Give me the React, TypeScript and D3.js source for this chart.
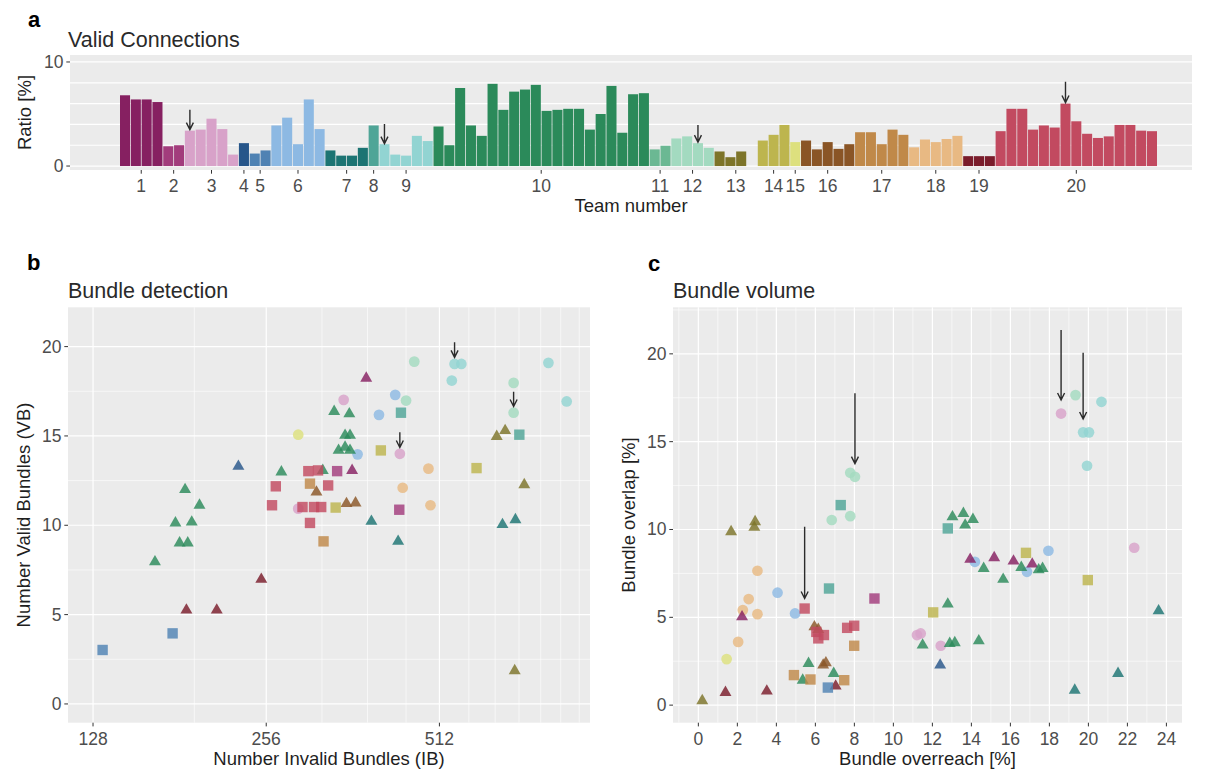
import React, { useEffect, useRef } from "react";
import * as d3 from "d3";

// ---- data ----
const teams = ["1","2","3","4","5","6","7","8","9","10","11","12","13","14","15","16","17","18","19","20"];
const teamColors = [
  "#862061", "#A23C7C", "#D8A2C9", "#27568A", "#4F82B3", "#8DB9E3", "#1C7473",
  "#4FA597", "#92D4D2", "#2B8A5A", "#6BB893", "#A3DAC0", "#7D7429", "#BDB54E",
  "#DDE07E", "#8A5526", "#C08949", "#E8B983", "#7A1C2B", "#C24A60",
];
// valid connection ratio [%] per submission, grouped by team
const teamRatios = [
  [6.8, 6.4, 6.4, 6.15],
  [1.9, 2.0],
  [3.4, 3.5, 4.55, 3.55, 1.1],
  [2.2],
  [1.2, 1.5],
  [3.9, 4.65, 2.1, 6.4, 3.55],
  [1.5, 1.0, 1.0, 1.75],
  [3.9],
  [2.1, 1.1, 1.0, 2.9, 2.4],
  [3.8, 2.0, 7.5, 3.9, 2.9, 7.9, 5.4, 7.15, 7.35, 7.8, 5.3, 5.4, 5.5, 5.5, 3.5, 5.0, 7.7, 3.2, 6.9, 7.0],
  [1.6, 1.95],
  [2.65, 2.85, 2.2, 1.75],
  [1.4, 0.85, 1.4, 0],
  [2.45, 3.0, 3.95],
  [2.3],
  [2.45, 1.6, 2.3, 1.65, 2.1],
  [3.25, 3.25, 2.1, 3.5, 3.0],
  [1.8, 2.55, 2.3, 2.6, 2.9],
  [0.95, 0.95, 0.95],
  [3.35, 5.5, 5.5, 3.5, 3.9, 3.7, 6.0, 4.3, 3.1, 2.7, 2.85, 3.95, 3.95, 3.4, 3.35],
];
// arrows: [team, submission index, from value, to value]
const arrowsA = [
  [3, 0, 5.4, 3.5],
  [9, 0, 4.05, 2.15],
  [12, 2, 3.95, 2.3],
  [20, 6, 8.1, 6.1],
];

// [IB, VB, team, shape]
const bundleDetection = [
  [463, 19.16, 12, "c"], [544, 19.03, 9, "c"], [559, 19.03, 9, "c"], [538, 18.1, 9, "c"],
  [792, 19.09, 9, "c"], [852, 16.93, 9, "c"], [689, 17.97, 12, "c"], [689, 16.3, 12, "c"],
  [349, 17.02, 3, "c"], [429, 17.3, 6, "c"], [448, 16.98, 12, "c"], [402, 16.18, 6, "c"],
  [291, 15.07, 15, "c"], [369, 13.97, 6, "c"], [437, 14.0, 3, "c"], [490, 13.17, 18, "c"],
  [442, 12.1, 18, "c"], [494, 11.12, 18, "c"], [291, 10.93, 3, "c"],
  [382, 18.23, 1, "t"], [336, 16.37, 10, "t"], [357, 16.24, 10, "t"], [351, 15.03, 10, "t"],
  [358, 15.03, 10, "t"], [342, 14.19, 10, "t"], [358, 14.19, 10, "t"], [351, 14.37, 10, "t"],
  [229, 13.3, 4, "t"], [272, 12.98, 10, "t"], [321, 13.07, 10, "t"], [361, 13.07, 1, "t"],
  [185, 12.0, 10, "t"], [196, 11.12, 10, "t"], [178, 10.13, 10, "t"], [190, 10.18, 10, "t"],
  [181, 9.01, 10, "t"], [187, 9.01, 10, "t"], [164, 7.95, 10, "t"], [186, 5.25, 19, "t"],
  [210, 5.25, 19, "t"], [251, 6.97, 19, "t"], [644, 14.97, 13, "t"], [666, 15.3, 13, "t"],
  [719, 12.27, 13, "t"], [692, 1.86, 13, "t"], [659, 10.04, 7, "t"], [694, 10.31, 7, "t"],
  [390, 10.22, 7, "t"], [434, 9.1, 7, "t"], [353, 11.21, 16, "t"], [366, 11.25, 16, "t"],
  [313, 11.86, 16, "t"],
  [439, 16.3, 8, "s"], [405, 14.19, 14, "s"], [705, 15.07, 8, "s"], [594, 13.2, 14, "s"],
  [303, 13.03, 20, "s"], [315, 13.07, 20, "s"], [340, 13.03, 2, "s"], [266, 12.18, 20, "s"],
  [305, 12.33, 17, "s"], [328, 12.23, 20, "s"], [262, 11.12, 20, "s"], [296, 11.02, 20, "s"],
  [310, 11.02, 20, "s"], [319, 11.02, 20, "s"], [305, 10.13, 20, "s"], [322, 9.1, 17, "s"],
  [338, 10.99, 14, "s"], [436, 10.87, 2, "s"], [176, 3.95, 5, "s"], [133, 3.02, 5, "s"],
];
const arrowsB = [
  [544, 20.24, 19.4],
  [437, 15.21, 14.35],
  [689, 17.48, 16.65],
];

// [overreach, overlap, team, shape]
const bundleVolume = [
  [18.6, 16.6, 3, "c"], [19.34, 17.65, 12, "c"], [20.67, 17.27, 9, "c"], [19.73, 15.53, 9, "c"],
  [20.03, 15.53, 9, "c"], [19.93, 13.63, 9, "c"], [7.79, 13.23, 12, "c"], [8.03, 13.0, 12, "c"],
  [6.84, 10.54, 12, "c"], [7.79, 10.76, 12, "c"], [3.03, 7.65, 18, "c"], [4.06, 6.4, 6, "c"],
  [2.58, 6.04, 18, "c"], [4.96, 5.22, 6, "c"], [2.28, 5.41, 18, "c"], [3.03, 5.18, 18, "c"],
  [2.04, 3.6, 18, "c"], [1.45, 2.62, 15, "c"], [14.18, 8.16, 6, "c"], [17.95, 8.79, 6, "c"],
  [16.85, 7.59, 6, "c"], [22.35, 8.96, 3, "c"], [11.21, 3.99, 3, "c"], [11.4, 4.08, 3, "c"],
  [12.43, 3.38, 3, "c"],
  [1.68, 9.87, 13, "t"], [2.87, 10.12, 13, "t"], [2.91, 10.44, 13, "t"], [2.24, 5.03, 1, "t"],
  [0.2, 0.25, 13, "t"], [1.39, 0.72, 19, "t"], [3.51, 0.8, 19, "t"], [5.95, 4.46, 16, "t"],
  [6.15, 4.31, 16, "t"], [5.65, 2.37, 10, "t"], [5.35, 1.42, 10, "t"], [6.94, 1.8, 10, "t"],
  [6.54, 2.41, 16, "t"], [6.4, 2.28, 16, "t"], [7.04, 1.08, 19, "t"], [13.03, 10.72, 10, "t"],
  [13.59, 10.91, 10, "t"], [13.68, 10.25, 10, "t"], [14.08, 10.57, 10, "t"], [13.94, 8.3, 1, "t"],
  [15.17, 8.39, 1, "t"], [16.16, 8.2, 1, "t"], [17.12, 8.03, 1, "t"], [14.63, 7.78, 10, "t"],
  [15.63, 7.16, 10, "t"], [16.56, 7.84, 10, "t"], [17.65, 7.78, 10, "t"], [17.45, 7.7, 10, "t"],
  [23.6, 5.37, 7, "t"], [12.79, 5.75, 10, "t"], [11.5, 3.42, 10, "t"], [12.89, 3.51, 10, "t"],
  [13.15, 3.55, 10, "t"], [14.38, 3.66, 10, "t"], [12.4, 2.28, 4, "t"], [19.3, 0.85, 7, "t"],
  [21.52, 1.8, 7, "t"],
  [7.3, 11.39, 8, "s"], [6.7, 6.64, 8, "s"], [5.45, 5.5, 20, "s"], [9.03, 6.07, 2, "s"],
  [6.05, 4.17, 20, "s"], [6.44, 3.99, 20, "s"], [6.15, 3.8, 20, "s"], [7.63, 4.4, 20, "s"],
  [7.99, 4.52, 20, "s"], [7.99, 3.38, 17, "s"], [4.9, 1.71, 17, "s"], [5.75, 1.46, 17, "s"],
  [7.48, 1.42, 17, "s"], [6.64, 1.0, 5, "s"], [12.79, 10.06, 8, "s"], [16.8, 8.67, 14, "s"],
  [19.97, 7.12, 14, "s"], [12.04, 5.28, 14, "s"],
];
const arrowsC = [
  [18.6, 21.36, 17.37],
  [19.73, 20.06, 16.29],
  [8.03, 17.75, 13.75],
  [5.45, 10.15, 6.07],
];

const FONT = "'Liberation Sans', Arial, sans-serif";
const BG = "#EBEBEB";
const TICK_COL = "#4d4d4d";
const TEXT_COL = "#1f1f1f";

function App() {
  const ref = useRef(null);

  const text = (g, x, y, str, size, opts: any = {}) => {
    const t = g
      .append("text")
      .attr("x", x)
      .attr("y", y)
      .attr("font-family", FONT)
      .attr("font-size", size)
      .attr("fill", opts.fill || TEXT_COL)
      .attr("text-anchor", opts.anchor || "start")
      .text(str);
    if (opts.weight) t.attr("font-weight", opts.weight);
    if (opts.rotate) t.attr("transform", `rotate(-90,${x},${y})`);
    return t;
  };

  const arrow = (g, x, y0, y1) => {
    g.append("path")
      .attr("d", `M${x},${y0}L${x},${y1}M${x - 3.5},${y1 - 7}L${x},${y1}L${x + 3.5},${y1 - 7}`)
      .attr("stroke", "#2b2b2b")
      .attr("stroke-width", 1.4)
      .attr("fill", "none");
  };

  const grid = (g, x, y, xMajor, xMinor, yMajor, yMinor) => {
    const [x0, x1] = x.range();
    const [y1, y0] = y.range();
    g.append("rect").attr("x", x0).attr("y", y0).attr("width", x1 - x0).attr("height", y1 - y0).attr("fill", BG);
    const line = (vals, vertical, w) =>
      g.append("g").selectAll("line").data(vals).join("line")
        .attr("x1", (d) => (vertical ? x(d) : x0))
        .attr("x2", (d) => (vertical ? x(d) : x1))
        .attr("y1", (d) => (vertical ? y0 : y(d)))
        .attr("y2", (d) => (vertical ? y1 : y(d)))
        .attr("stroke", "#fff")
        .attr("stroke-width", w);
    line(xMinor, true, 0.6);
    line(yMinor, false, 0.6);
    line(xMajor, true, 1.2);
    line(yMajor, false, 1.2);
  };

  const axes = (g, x, y, xTicks, yTicks, xLabel, yLabel, xTitle, yTitle, yTitleX, xTitleY) => {
    const [x0, x1] = x.range();
    const [y1] = y.range();
    xTicks.forEach((d) => {
      g.append("line").attr("x1", x(d)).attr("x2", x(d)).attr("y1", y1).attr("y2", y1 + 3.7).attr("stroke", "#333").attr("stroke-width", 1);
      text(g, x(d), y1 + 22, xLabel(d), 17.5, { anchor: "middle", fill: TICK_COL });
    });
    yTicks.forEach((d) => {
      g.append("line").attr("x1", x0 - 3.7).attr("x2", x0).attr("y1", y(d)).attr("y2", y(d)).attr("stroke", "#333").attr("stroke-width", 1);
      text(g, x0 - 6.5, y(d) + 6, yLabel(d), 17.5, { anchor: "end", fill: TICK_COL });
    });
    text(g, (x0 + x1) / 2, xTitleY, xTitle, 18.5, { anchor: "middle" });
    const [ya, yb] = y.range();
    text(g, yTitleX, (ya + yb) / 2, yTitle, 18.5, { anchor: "middle", rotate: true });
  };

  const shapes = { t: d3.symbolTriangle, s: d3.symbolSquare, c: d3.symbolCircle };
  const sizes = { t: 62, s: 108, c: 90 };
  const points = (g, data, x, y) => {
    g.append("g").selectAll("path").data(data).join("path")
      .attr("transform", (d) => `translate(${x(d[0])},${y(d[1])})`)
      .attr("d", (d) => d3.symbol(shapes[d[3]], sizes[d[3]])())
      .attr("fill", (d) => teamColors[d[2] - 1])
      .attr("fill-opacity", 0.82);
  };

  useEffect(() => {
    const svg = d3.select(ref.current);
    svg.selectAll("*").remove();

    // ---------- panel a ----------
    const bars = teamRatios.flatMap((vals, ti) => vals.map((v, j) => ({ id: `${ti}-${j}`, team: ti, v })));
    const xA = d3.scaleBand().domain(bars.map((b) => b.id)).range([120, 1157]).paddingInner(0.07);
    const xAc = d3.scaleLinear().domain([70, 1192]).range([70, 1192]);
    const yA = d3.scaleLinear().domain([-0.38, 10.67]).range([170, 55]);
    const gA = svg.append("g");
    grid(gA, xAc, yA, [], [], [0, 2, 4, 6, 8, 10], []);
    gA.append("g").selectAll("rect").data(bars).join("rect")
      .attr("x", (d) => xA(d.id))
      .attr("width", xA.bandwidth())
      .attr("y", (d) => yA(d.v))
      .attr("height", (d) => yA(0) - yA(d.v))
      .attr("fill", (d) => teamColors[d.team]);
    const teamCenter = (ti) => {
      const n = teamRatios[ti].length;
      return (xA(`${ti}-0`) + xA(`${ti}-${n - 1}`) + xA.bandwidth()) / 2;
    };
    const centers = teams.map((_, i) => teamCenter(i));
    axes(gA, xAc, yA, centers, [0, 10], (d) => teams[centers.indexOf(d)], (d) => String(d),
      "Team number", "Ratio [%]", 31, 212);
    arrowsA.forEach(([t, j, from, to]) => {
      const id = `${t - 1}-${j}`;
      arrow(gA, xA(id) + xA.bandwidth() / 2, yA(from), yA(to));
    });
    text(gA, 68, 46.5, "Valid Connections", 21.5, { fill: "#2a2a2a" });
    text(gA, 28, 27, "a", 22, { weight: "bold", fill: "#000" });

    // ---------- panel b ----------
    const xB = d3.scaleLog().base(2).domain([115.8, 935.4]).range([68, 590]);
    const yB = d3.scaleLinear().domain([-1.05, 22.2]).range([722.7, 307.3]);
    const gB = svg.append("g");
    grid(gB, xB, yB, [128, 256, 512], [192, 320, 384, 448, 576, 640, 704, 768, 832, 896],
      [0, 5, 10, 15, 20], [2.5, 7.5, 12.5, 17.5]);
    points(gB, bundleDetection, xB, yB);
    arrowsB.forEach(([xv, a, b]) => arrow(gB, xB(xv), yB(a), yB(b)));
    axes(gB, xB, yB, [128, 256, 512], [0, 5, 10, 15, 20], (d) => String(d), (d) => String(d),
      "Number Invalid Bundles (IB)", "Number Valid Bundles (VB)", 30, 765);
    text(gB, 68, 298, "Bundle detection", 21.5, { fill: "#2a2a2a" });
    text(gB, 27, 270, "b", 22, { weight: "bold", fill: "#000" });

    // ---------- panel c ----------
    const xC = d3.scaleLinear().domain([-1.3, 24.8]).range([673, 1182]);
    const yC = d3.scaleLinear().domain([-1.0, 22.65]).range([722.7, 307.3]);
    const gC = svg.append("g");
    grid(gC, xC, yC, d3.range(0, 25, 2), d3.range(-1, 25, 2),
      [0, 5, 10, 15, 20], [2.5, 7.5, 12.5, 17.5, 22.5]);
    points(gC, bundleVolume, xC, yC);
    arrowsC.forEach(([xv, a, b]) => arrow(gC, xC(xv), yC(a), yC(b)));
    axes(gC, xC, yC, d3.range(0, 25, 2), [0, 5, 10, 15, 20], (d) => String(d), (d) => String(d),
      "Bundle overreach [%]", "Bundle overlap [%]", 635, 765);
    text(gC, 673, 298, "Bundle volume", 21.5, { fill: "#2a2a2a" });
    text(gC, 648, 271, "c", 22, { weight: "bold", fill: "#000" });
  }, []);

  return (
    <svg
      ref={ref}
      width={1206}
      height={773}
      style={{ position: "absolute", left: 0, top: 0, background: "#fff" }}
    />
  );
}

export default App;
